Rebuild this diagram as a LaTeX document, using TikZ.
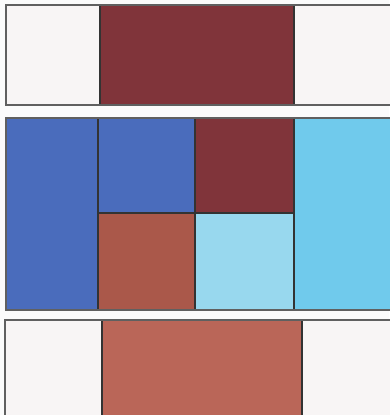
\documentclass[tikz,border=0pt]{standalone}
\usepackage{tikz}
\usetikzlibrary{positioning}
\definecolor{qmaroon}{RGB}{128,52,58}
\definecolor{qblue}{RGB}{74,108,188}
\definecolor{qsky}{RGB}{112,202,236}
\definecolor{qice}{RGB}{152,216,238}
\definecolor{qbrown}{RGB}{170,88,74}
\definecolor{qrust}{RGB}{186,102,88}
\definecolor{qwhite}{RGB}{248,245,245}
\tikzset{
    patch/.style={rectangle, draw=gray!40!black, fill=#1, inner sep=0pt, outer sep=0pt, line width=0.35pt, anchor=south west},
    band/.style={rectangle, draw=gray!75!black, inner sep=0pt, outer sep=0pt, line width=0.5pt, anchor=south west}
}
\begin{document}
\begin{tikzpicture}
        \useasboundingbox[fill=white!97!gray] (0,0) rectangle (3.89,4.15);
        % top band
        \node[patch=qwhite, minimum width=0.94cm, minimum height=1.00cm]  (tl) at (0.06,3.10) {};
        \node[patch=qmaroon, minimum width=1.94cm, minimum height=1.00cm] (tm) at (1.00,3.10) {};
        \node[patch=qwhite, minimum width=1.05cm, minimum height=1.00cm]  (tr) at (2.94,3.10) {};
        \node[band, minimum width=4.00cm, minimum height=1.00cm] (top) at (0.06,3.10) {};
        % middle band
        \node[patch=qblue, minimum width=0.92cm, minimum height=1.92cm]   (ml)  at (0.06,1.05) {};
        \node[patch=qblue, minimum width=0.97cm, minimum height=0.95cm]   (mtl) at (0.98,2.02) {};
        \node[patch=qmaroon, minimum width=0.99cm, minimum height=0.95cm] (mtr) at (1.95,2.02) {};
        \node[patch=qbrown, minimum width=0.97cm, minimum height=0.97cm]  (mbl) at (0.98,1.05) {};
        \node[patch=qice, minimum width=0.99cm, minimum height=0.97cm]    (mbr) at (1.95,1.05) {};
        \node[patch=qsky, minimum width=1.05cm, minimum height=1.92cm]    (mr)  at (2.94,1.05) {};
        \node[band, minimum width=4.00cm, minimum height=1.92cm] (mid) at (0.06,1.05) {};
        % bottom band
        \node[patch=qwhite, minimum width=0.97cm, minimum height=1.00cm] (bl) at (0.05,-0.05) {};
        \node[patch=qrust, minimum width=2.00cm, minimum height=1.00cm]  (bm) at (1.02,-0.05) {};
        \node[patch=qwhite, minimum width=1.05cm, minimum height=1.00cm] (br) at (3.02,-0.05) {};
        \node[band, minimum width=4.00cm, minimum height=1.00cm] (bot) at (0.05,-0.05) {};
\end{tikzpicture}
\end{document}
